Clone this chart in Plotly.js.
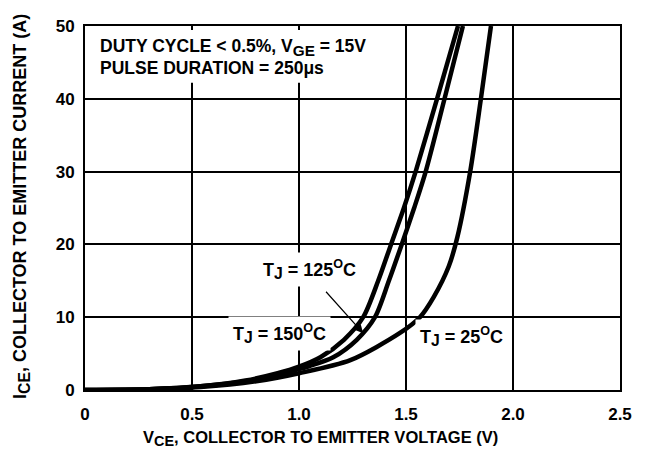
<!DOCTYPE html>
<html><head><meta charset="utf-8">
<script src="https://cdn.plot.ly/plotly-3.0.1.min.js"></script>
<style>html,body{margin:0;padding:0;background:#fff}#chart{width:650px;height:450px}</style>
</head><body><div id="chart"></div>
<script>
const v25 = [0, 0.3, 0.54, 0.8, 1.0, 1.24, 1.47, 1.565, 1.63, 1.70, 1.74, 1.80, 1.85, 1.897];
const i25 = [0, 0.1, 0.4, 1.2, 2.3, 4.1, 7.8, 10, 12.8, 17, 21, 30, 40, 50];
const v125 = [0, 0.3, 0.54, 0.75, 0.92, 1.05, 1.16, 1.27, 1.355, 1.42, 1.48, 1.538, 1.592, 1.68, 1.766];
const i125 = [0, 0.1, 0.5, 1.2, 2.3, 3.3, 4.5, 6.9, 10, 15, 20, 25, 30, 40, 50];
const v150 = [0, 0.3, 0.54, 0.75, 0.9, 1.0, 1.10, 1.21, 1.30, 1.37, 1.43, 1.49, 1.545, 1.645, 1.743];
const i150 = [0, 0.1, 0.5, 1.3, 2.3, 3.2, 4.5, 6.9, 10, 15, 20, 25, 30, 40, 50];
const xTicks = [0, 0.5, 1.0, 1.5, 2.0, 2.5];
const xTickText = ['0', '0.5', '1.0', '1.5', '2.0', '2.5'];
const yTicks = [0, 10, 20, 30, 40, 50];

const F = 'Liberation Sans, Arial, Helvetica, sans-serif';
const lineStyle = {color: '#000', width: 4.5, shape: 'spline', smoothing: 0.8};
const traces = [
  {x: v25, y: i25, mode: 'lines', line: lineStyle, name: 'TJ = 25°C'},
  {x: v125, y: i125, mode: 'lines', line: lineStyle, name: 'TJ = 125°C'},
  {x: v150, y: i150, mode: 'lines', line: lineStyle, name: 'TJ = 150°C'}
];
const tickF = {family: F, size: 17, color: '#000', weight: 'bold'};
const xTitleF = {family: F, size: 16.5, color: '#000', weight: 'bold'};
const yTitleF = {family: F, size: 18, color: '#000', weight: 'bold'};
const annF = {family: F, size: 18, color: '#000', weight: 'bold'};
const boxF = {family: F, size: 17.5, color: '#000', weight: 'bold'};
const S = (t) => '<sub><span style="font-size:125%">' + t + '</span></sub>';
const layout = {
  width: 650, height: 450,
  margin: {l: 85, r: 30, t: 26, b: 60},
  paper_bgcolor: '#fff', plot_bgcolor: '#fff',
  showlegend: false,
  xaxis: {
    range: [0, 2.5], tickvals: xTicks, ticktext: xTickText,
    showgrid: true, gridcolor: '#000', gridwidth: 2,
    showline: true, linecolor: '#000', linewidth: 2, mirror: true,
    zeroline: false, ticks: '', ticklabelstandoff: 8,
    tickfont: tickF
  },
  yaxis: {
    range: [0, 50], tickvals: yTicks,
    showgrid: true, gridcolor: '#000', gridwidth: 2,
    showline: true, linecolor: '#000', linewidth: 2, mirror: true,
    zeroline: false, ticks: '', ticklabelstandoff: 5,
    tickfont: tickF
  },
  shapes: [
    {type: 'rect', xref: 'x', yref: 'y', x0: 0.02, x1: 1.42, y0: 42.2, y1: 49.45,
     fillcolor: '#fff', line: {width: 0}, layer: 'above'}
  ],
  annotations: [
    {xref: 'paper', yref: 'paper', x: (320 - 85) / 535, y: -(438 - 390) / 364, xanchor: 'center', yanchor: 'middle',
     showarrow: false, text: 'V' + S('CE') + ', COLLECTOR TO EMITTER VOLTAGE (V)', font: xTitleF},
    {xref: 'paper', yref: 'paper', x: -(85 - 21) / 535, y: (390 - 207) / 364, xanchor: 'center', yanchor: 'middle',
     textangle: -90, showarrow: false, text: 'I' + S('CE') + ', COLLECTOR TO EMITTER CURRENT (A)', font: yTitleF},
    {x: 0.061, y: 47.1, xanchor: 'left', yanchor: 'middle', showarrow: false,
     text: 'DUTY CYCLE < 0.5%, V' + S('GE') + ' = 15V', font: boxF},
    {x: 0.061, y: 44.3, xanchor: 'left', yanchor: 'middle', showarrow: false,
     text: 'PULSE DURATION = 250μs', font: boxF},
    {x: 1.051, y: 16.5, showarrow: false, bgcolor: '#fff', borderpad: 4,
     text: 'T' + S('J') + ' = 125<sup>O</sup>C', font: annF},
    {x: 0.911, y: 7.8, showarrow: false, bgcolor: '#fff', borderpad: 4,
     text: 'T' + S('J') + ' = 150<sup>O</sup>C', font: annF},
    {x: 1.76, y: 7.4, showarrow: false, bgcolor: '#fff', borderpad: 4,
     text: 'T' + S('J') + ' = 25<sup>O</sup>C', font: annF},
    {x: 1.30, y: 7.8, ax: 1.12, ay: 13.7, axref: 'x', ayref: 'y', text: '',
     showarrow: true, arrowhead: 2, arrowsize: 1.4, arrowwidth: 1.2, arrowcolor: '#000'}
  ]
};
Plotly.newPlot('chart', traces, layout, {staticPlot: true});
</script></body></html>
